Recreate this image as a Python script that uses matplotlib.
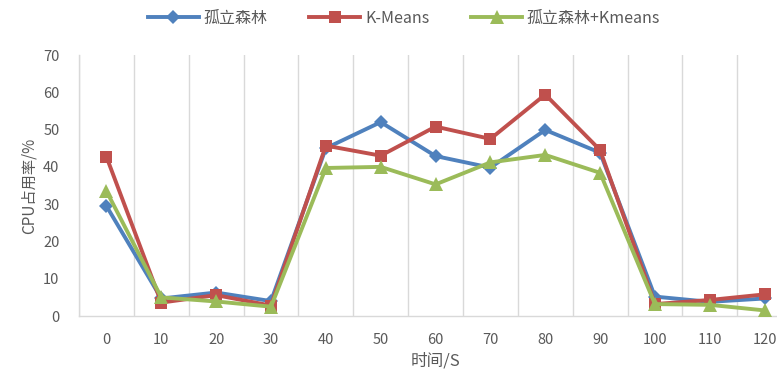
import matplotlib
matplotlib.use("Agg")
import matplotlib.pyplot as plt
import numpy as np

plt.rcParams['font.family'] = ['Noto Sans CJK SC', 'DejaVu Sans']

# 时间 (s)
times = [0, 10, 20, 30, 40, 50, 60, 70, 80, 90, 100, 110, 120]

# CPU 占用率 (%)
iforest = [29.5, 4.7, 6.3, 4.0, 45.0, 52.0, 42.9, 39.8, 49.9, 43.8, 5.2, 3.8, 4.7]
kmeans = [42.7, 3.6, 5.6, 2.8, 45.7, 43.0, 50.8, 47.5, 59.4, 44.5, 3.2, 4.3, 5.8]
iforest_kmeans = [33.5, 5.0, 3.9, 2.5, 39.7, 40.0, 35.3, 41.2, 43.2, 38.4, 3.2, 3.0, 1.5]

series_names = ['孤立森林', 'K-Means', '孤立森林+Kmeans']
colors = ['#4F81BD', '#C0504D', '#9BBB59']
markers = ['D', 's', '^']
msizes = [7, 9, 9.5]

text_color = '#595959'
grid_color = '#D9D9D9'

fig = plt.figure(figsize=(7.77, 3.75), dpi=100)
ax = fig.add_axes([0.1017, 0.1573, 0.9177, 0.696])

x = np.arange(len(times))
for vals, name, c, m, ms in zip([iforest, kmeans, iforest_kmeans],
                               series_names, colors, markers, msizes):
    ax.plot(x, vals, color=c, lw=2.8, marker=m, ms=ms, label=name,
            markeredgewidth=0, clip_on=False, zorder=3)

ax.set_xlim(-0.5, len(times) - 0.5)
ax.set_ylim(0, 70)
ax.set_yticks(range(0, 71, 10))
ax.set_xticks(x)
ax.set_xticklabels([str(t) for t in times])

# vertical grid lines between categories
ax.set_xticks(np.arange(-0.5, len(times), 1.0), minor=True)
ax.grid(which='minor', axis='x', color=grid_color, lw=1.0)
ax.grid(which='major', visible=False)
ax.tick_params(which='both', length=0)
ax.tick_params(axis='x', pad=12, labelsize=10.5, colors=text_color)
ax.tick_params(axis='y', pad=14, labelsize=10.5, colors=text_color)

for side in ['top', 'right']:
    ax.spines[side].set_visible(False)
for side in ['left', 'bottom']:
    ax.spines[side].set_color(grid_color)
    ax.spines[side].set_linewidth(1.0)

ax.set_xlabel('时间/S', fontsize=12, color=text_color)
ax.set_ylabel('CPU占用率/%', fontsize=11, color=text_color, labelpad=4)
ax.xaxis.set_label_coords(0.5, -0.14)

fig.legend(loc='upper center', bbox_to_anchor=(0.52, 1.012), ncol=3,
           frameon=False, fontsize=11.5, handlelength=3.2, columnspacing=2.6,
           handletextpad=0.3, labelcolor=text_color)

fig.savefig('out.png', dpi=100)
